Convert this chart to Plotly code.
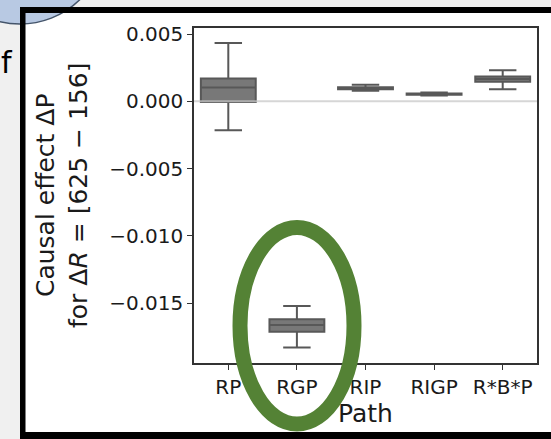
import plotly.graph_objects as go

# ---- data ----
paths = ["RP", "RGP", "RIP", "RIGP", "R*B*P"]
lower_whisker = [-0.00215, -0.0183, 0.00078, 0.00043, 0.00089]
q1_vals = [-0.00005, -0.01714, 0.00090, 0.00048, 0.00145]
median_vals = [0.00102, -0.01664, 0.00097, 0.00053, 0.00166]
q3_vals = [0.00169, -0.0162, 0.00105, 0.00058, 0.00185]
upper_whisker = [0.00433, -0.01523, 0.00123, 0.00066, 0.0023]
y_ticks = [-0.015, -0.010, -0.005, 0.0, 0.005]

W, H = 551, 439
L, R, T, B = 194, 537, 28, 363


def px(x):
    return (x - L) / (R - L)


def py(y):
    return (B - y) / (B - T)


fig = go.Figure()
fig.add_trace(go.Box(
    x=paths, q1=q1_vals, median=median_vals, q3=q3_vals,
    lowerfence=lower_whisker, upperfence=upper_whisker,
    fillcolor="#787878", line=dict(color="#585858", width=2),
    width=0.8, whiskerwidth=0.5, boxpoints=False, showlegend=False,
))

shapes = []
# zero reference line
shapes.append(dict(type="line", xref="paper", yref="y", x0=0, x1=1, y0=0, y1=0,
                   line=dict(color="rgba(200,200,200,0.75)", width=2), layer="above"))
# light gray surroundings outside the frame
shapes.append(dict(type="rect", xref="paper", yref="paper", x0=px(0), x1=px(20), y0=py(H), y1=py(0),
                   fillcolor="#f0f0f0", line=dict(width=0), layer="below"))
shapes.append(dict(type="rect", xref="paper", yref="paper", x0=px(0), x1=px(W), y0=py(7), y1=py(0),
                   fillcolor="#f0f0f0", line=dict(width=0), layer="below"))
# blue blob top-left
shapes.append(dict(type="circle", xref="paper", yref="paper", x0=px(20 - 85), x1=px(20 + 85),
                   y0=py(-60 + 84), y1=py(-60 - 84), fillcolor="#b8c9e3",
                   line=dict(color="#44546a", width=1.5), layer="above"))
# black frame
shapes.append(dict(type="rect", xref="paper", yref="paper", x0=px(20), x1=px(W + 5), y0=py(13), y1=py(7),
                   fillcolor="black", line=dict(width=0), layer="above"))
shapes.append(dict(type="rect", xref="paper", yref="paper", x0=px(20), x1=px(25.5), y0=py(H), y1=py(7),
                   fillcolor="black", line=dict(width=0), layer="above"))
shapes.append(dict(type="rect", xref="paper", yref="paper", x0=px(20), x1=px(W + 5), y0=py(H + 5), y1=py(432),
                   fillcolor="black", line=dict(width=0), layer="above"))
# green ellipse
shapes.append(dict(type="circle", xref="paper", yref="paper", x0=px(240), x1=px(354),
                   y0=py(424), y1=py(227.5), line=dict(color="#548235", width=15), layer="above"))

annotations = [
    dict(text="Causal effect ΔP<br>for Δ<i>R</i> = [625 − 156]", xref="paper", yref="paper",
         x=px(62), y=py(196), textangle=-90, showarrow=False, xanchor="center", yanchor="middle",
         font=dict(size=25, color="#1a1a1a")),
    dict(text="Path", xref="paper", yref="paper", x=px(365), y=py(413), showarrow=False,
         xanchor="center", yanchor="middle", font=dict(size=25, color="#1a1a1a")),
    dict(text="f", xref="paper", yref="paper", x=px(7), y=py(63), showarrow=False,
         xanchor="center", yanchor="middle", font=dict(size=30, color="black")),
]

fig.update_layout(
    width=W, height=H,
    margin=dict(l=L, r=W - R, t=T, b=H - B, autoexpand=False),
    paper_bgcolor="white", plot_bgcolor="white",
    font=dict(family="DejaVu Sans", size=20, color="#1a1a1a"),
    shapes=shapes, annotations=annotations,
    showlegend=False,
)
fig.update_xaxes(range=[-0.5, 4.5], showline=True, mirror=True, linecolor="#333", linewidth=1.5,
                 ticks="outside", ticklen=5, tickcolor="#333", showgrid=False, zeroline=False,
                 tickfont=dict(size=20))
fig.update_yaxes(range=[-0.01946, 0.00545], tickvals=y_ticks, tickformat=".3f",
                 showline=True, mirror=True, linecolor="#333", linewidth=1.5,
                 ticks="outside", ticklen=5, tickcolor="#333", showgrid=False, zeroline=False,
                 tickfont=dict(size=20))

fig.write_html("out.html", config={"displayModeBar": False},
               post_script="document.body.style.margin='0';document.body.style.overflow='hidden';")
